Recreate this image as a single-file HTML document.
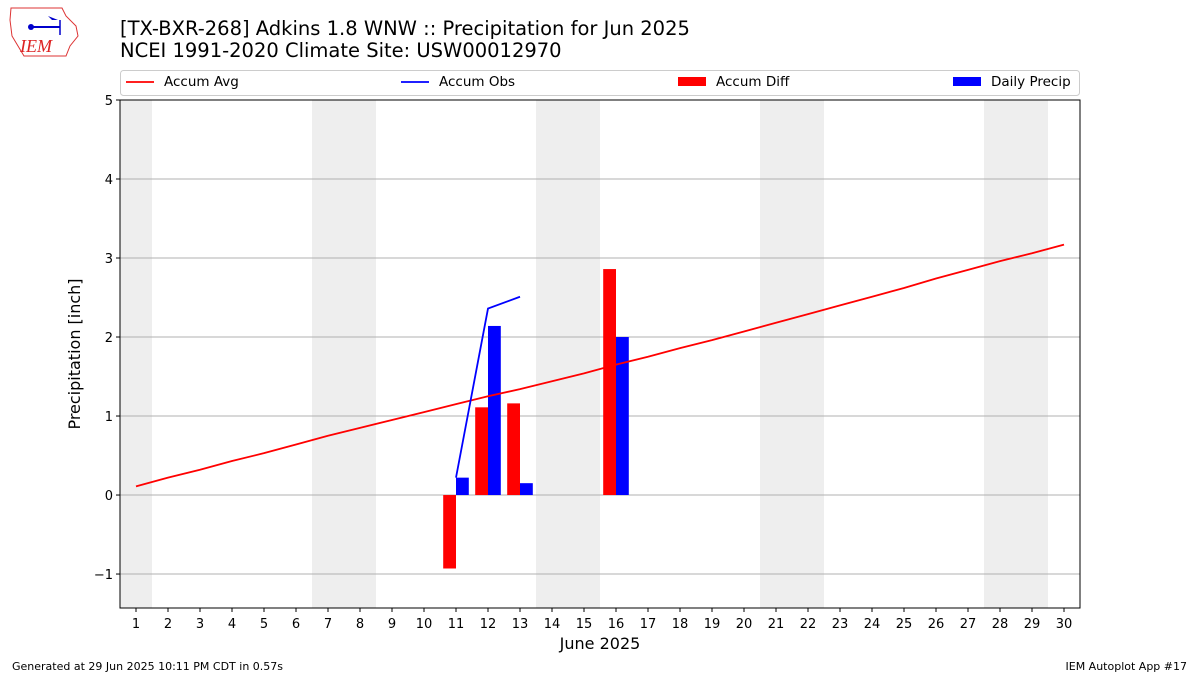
<!DOCTYPE html>
<html><head><meta charset="utf-8"><style>
body{margin:0;background:#fff;font-family:"DejaVu Sans",sans-serif;}
svg{display:block}
</style></head><body>
<svg id="c" width="1200" height="675" xmlns="http://www.w3.org/2000/svg" font-family="DejaVu Sans, sans-serif">
<g>
<path d="M11,8 L62,8 L66,16 L76,26 L78,36 L70,46 L66,56 L24,56 L18,46 L12,36 L10,20 Z" fill="#fff" stroke="#d33" stroke-width="1"/>
<line x1="30" y1="27" x2="60" y2="27" stroke="#00c" stroke-width="2"/>
<circle cx="31" cy="27" r="3" fill="#00c"/>
<path d="M48,16 L58,20 L52,20 Z" fill="#00c"/>
<line x1="60" y1="20" x2="60" y2="35" stroke="#00c" stroke-width="1.5"/>
<text x="20" y="52" font-family="Liberation Serif, serif" font-style="italic" font-size="18" fill="#d22">IEM</text>
</g>
<text x="120" y="35" font-size="19.5" fill="#000">[TX-BXR-268] Adkins 1.8 WNW :: Precipitation for Jun 2025</text>
<text x="120" y="57" font-size="19.5" fill="#000">NCEI 1991-2020 Climate Site: USW00012970</text>
<g id="plot"></g>
<text x="12" y="670" font-size="11">Generated at 29 Jun 2025 10:11 PM CDT in 0.57s</text>
<text x="1187" y="670" font-size="11" text-anchor="end">IEM Autoplot App #17</text>
</svg>
<script>
const days=[1,2,3,4,5,6,7,8,9,10,11,12,13,14,15,16,17,18,19,20,21,22,23,24,25,26,27,28,29,30];
const accumAvg=[0.11,0.22,0.32,0.43,0.53,0.64,0.75,0.85,0.95,1.05,1.15,1.25,1.34,1.44,1.54,1.65,1.75,1.86,1.96,2.07,2.18,2.29,2.40,2.51,2.62,2.74,2.85,2.96,3.06,3.17];
const obsDays=[11,12,13];
const accumObs=[0.22,2.36,2.51];
const barDays=[11,12,13,16];
const accumDiff=[-0.93,1.11,1.16,2.86];
const dailyPrecip=[0.22,2.14,0.15,2.00];
const weekendDays=[1,7,8,14,15,21,22,28,29];
const yTicks=[-1,0,1,2,3,4,5];
const yTickLabels=["\u22121","0","1","2","3","4","5"];

const L=120,R=1080,T=100,B=608,X0=0.5,X1=30.5,Y0=-1.43,Y1=5;
const sx=d=>L+(d-X0)/(X1-X0)*(R-L);
const sy=v=>B-(v-Y0)/(Y1-Y0)*(B-T);
const NS="http://www.w3.org/2000/svg";
const g=document.getElementById('plot');
function mk(t,a,p){const e=document.createElementNS(NS,t);for(const k in a)e.setAttribute(k,a[k]);(p||g).appendChild(e);return e;}

weekendDays.forEach(d=>{
 const e=mk('rect',{x:sx(d-0.5),y:T,width:sx(d+0.5)-sx(d-0.5),height:B-T,fill:'#eeeeee'});
 
 
});
yTicks.forEach((v,i)=>{
 const l=mk('line',{x1:L,x2:R,y1:sy(v),y2:sy(v),stroke:'#b0b0b0','stroke-width':1});
 
 
 mk('line',{x1:L-4,x2:L,y1:sy(v),y2:sy(v),stroke:'#000'});
 const t=mk('text',{x:L-7,y:sy(v)+5,'font-size':13,'text-anchor':'end'});
 t.textContent=yTickLabels[i];
 
 
});
days.forEach(d=>{
 mk('line',{x1:sx(d),x2:sx(d),y1:B,y2:B+4,stroke:'#000'});
 const t=mk('text',{x:sx(d),y:B+20,'font-size':13,'text-anchor':'middle'});
 t.textContent=d;
 
 
});
const bw=(sx(1.4)-sx(1));
barDays.forEach((d,i)=>{
 const v=accumDiff[i];
 const r=mk('rect',{x:sx(d)-bw,y:Math.min(sy(v),sy(0)),width:bw,height:Math.abs(sy(v)-sy(0)),fill:'#ff0000'});
 
 
 const p=dailyPrecip[i];
 const r2=mk('rect',{x:sx(d),y:Math.min(sy(p),sy(0)),width:bw,height:Math.abs(sy(p)-sy(0)),fill:'#0000ff'});
 
 
});
const la=mk('polyline',{points:days.map((d,i)=>sx(d)+','+sy(accumAvg[i])).join(' '),fill:'none',stroke:'#ff0000','stroke-width':1.8});


const lo=mk('polyline',{points:obsDays.map((d,i)=>sx(d)+','+sy(accumObs[i])).join(' '),fill:'none',stroke:'#0000ff','stroke-width':1.8});


const fr=mk('rect',{x:L,y:T,width:R-L,height:B-T,fill:'none',stroke:'#000','stroke-width':1});


const yt=mk('text',{x:0,y:0,'font-size':16,'text-anchor':'middle',transform:'translate(80,354) rotate(-90)'});
yt.textContent='Precipitation [inch]';


const xt=mk('text',{x:600,y:649,'font-size':16,'text-anchor':'middle'});
xt.textContent='June 2025';


// legend
const lg=mk('g',{});


mk('rect',{x:120.5,y:70.5,width:959,height:25,rx:3,fill:'#fff',stroke:'#ccc'},lg);
const items=[['line','#ff0000',126,'Accum Avg','legend-accum-avg'],['line','#0000ff',401,'Accum Obs','legend-accum-obs'],['rect','#ff0000',678,'Accum Diff','legend-accum-diff'],['rect','#0000ff',953,'Daily Precip','legend-daily-precip']];
items.forEach(it=>{
 const gi=mk('g',{},lg);
 
 
 if(it[0]=='line')mk('line',{x1:it[2],x2:it[2]+28,y1:82,y2:82,stroke:it[1],'stroke-width':1.8},gi);
 else mk('rect',{x:it[2],y:77,width:28,height:9,fill:it[1]},gi);
 const t=mk('text',{x:it[2]+38,y:86,'font-size':13.5},gi);
 t.textContent=it[3];
});
</script>
</body></html>
